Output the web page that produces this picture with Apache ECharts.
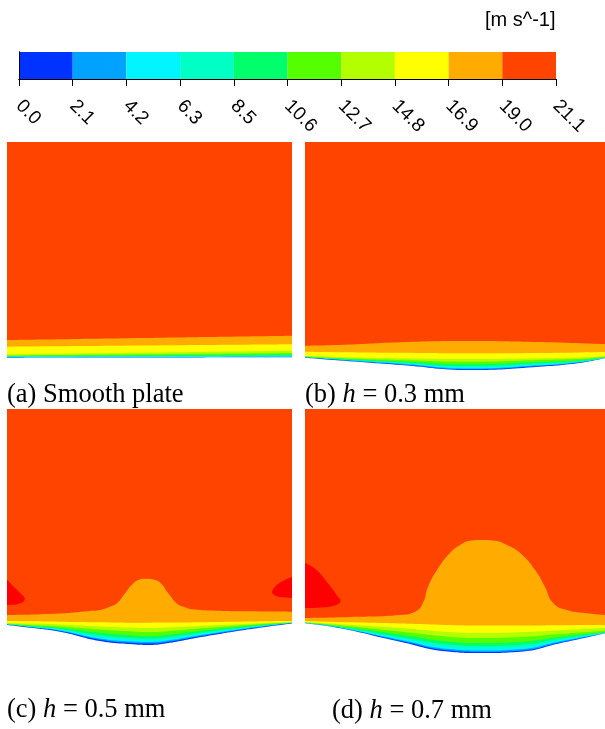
<!DOCTYPE html>
<html>
<head>
<meta charset="utf-8">
<script src="https://cdn.jsdelivr.net/npm/echarts@6/dist/echarts.min.js"></script>
<style>
  html, body { margin: 0; padding: 0; background: #ffffff; }
  #chart { width: 605px; height: 729px; }
</style>
</head>
<body>
<div id="chart"></div>
<script>
// Velocity contour legend: 10 levels, 0.0 to 21.1 m/s
const tickLabels = ['0.0', '2.1', '4.2', '6.3', '8.5', '10.6', '12.7', '14.8', '16.9', '19.0', '21.1'];
const binColors = ['#0033ff', '#00a2ff', '#00f5ff', '#00ffc4', '#00ff6a', '#55ff00', '#b3ff00', '#ffff00', '#ffab00', '#ff4400'];
const overColor = '#ff0000';
const unitText = '[m s^-1]';
const captions = ['(a) Smooth plate', '(b) {i|h} = 0.3 mm', '(c) {i|h} = 0.5 mm', '(d) {i|h} = 0.7 mm'];

// Each panel: x is the streamwise fraction of the window, y is height above the panel floor.
// "Top" arrays give the upper edge of each colour band; wall is the surface.

// (a) smooth plate
const aX = [0, 1];
const aOrangeTop = [32, 36.3];
const aYellowTop = [25.3, 27.7];
const aYgTop = [17.7, 21.3];
const aGreenTop = [16.5, 19];
const aSpringTop = [16, 17.5];
const aAquaTop = [15.6, 16.5];
const aCyanTop = [15.2, 15.8];
const aAzureTop = [14.7, 15.2];
const aBlueTop = [14.4, 14.9];
const aWall = [14.3, 14.7];

// (b) h = 0.3 mm
const bX = [0, 0.13, 0.32, 0.55, 0.78, 0.92, 1];
const bOrangeTop = [26.3, 27.3, 29.8, 31, 30, 28.8, 28];
const bYellowTop = [20.3, 19.8, 19.2, 18.7, 19.1, 19.6, 20];
const bYgTop = [16, 14.8, 13.8, 13, 13.8, 14.6, 15.8];
const bGreenTop = [15.5, 13.8, 12, 10.3, 12, 13.2, 15.2];
const bSpringTop = [15, 13, 10.5, 7.7, 10, 11.8, 14.7];
const bAquaTop = [14.8, 12.6, 9.6, 6, 8.7, 11.1, 14.5];
const bCyanTop = [14.6, 12.2, 8.8, 4.5, 7.5, 10.5, 14.3];
const bAzureTop = [14.5, 11.9, 8.2, 3.5, 6.7, 10.1, 14.2];
const bBlueTop = [14.4, 11.6, 7.6, 2.7, 6, 9.7, 14.1];
const bWall = [14.3, 11.3, 7, 2, 5.3, 9.3, 14];

// (c) h = 0.5 mm
const cX = [0, 0.081, 0.186, 0.326, 0.442, 0.502, 0.561, 0.677, 0.793, 0.912, 1];
const cYellowTop = [35, 34.7, 34.3, 33.7, 33.3, 33.3, 33.4, 33.8, 34.3, 34.8, 35];
const cYgTop = [33, 32.4, 31.5, 29.5, 28.3, 28, 28.4, 30, 31.5, 33, 33.5];
const cGreenTop = [32.2, 31, 29.5, 26.5, 24.5, 24, 24.8, 27.5, 30, 32.2, 33.4];
const cSpringTop = [31.7, 30.2, 28, 23.2, 20.6, 20, 21, 25, 28.5, 31.5, 33.2];
const cAquaTop = [31.6, 29.7, 27, 20.8, 18, 17.5, 18.7, 23.2, 27.4, 31, 33.1];
const cCyanTop = [31.5, 29.3, 26.2, 18.9, 16, 15.5, 16.8, 21.8, 26.5, 30.6, 33];
const cAzureTop = [31.4, 29, 25.6, 17.6, 14.5, 14, 15.4, 20.8, 25.8, 30.2, 32.9];
const cBlueTop = [31.2, 28.7, 25, 16.3, 13, 12.4, 14, 19.8, 25.1, 29.8, 32.7];
const cWall = [31, 28.3, 24.3, 15, 11.7, 11, 12.7, 18.7, 24.3, 29.3, 32.5];
// orange region rises into a bump over the roughness element
const cOrangeX = [0, 0.186, 0.291, 0.326, 0.361, 0.386, 0.414, 0.4375, 0.461, 0.488, 0.513, 0.537, 0.566, 0.595, 0.619, 0.654, 0.736, 0.853, 1];
const cOrangeTop = [41, 42.5, 45, 46, 49.3, 52.7, 62.7, 71, 76, 77.3, 76.5, 73.5, 62.7, 52.7, 49.3, 46.7, 45.3, 44.7, 44.3];
// faster pockets at the side edges
const cLeftPocketX = [0, 0.0105, 0.028, 0.046, 0.060, 0.063, 0.056, 0.039, 0.0105, 0];
const cLeftPocketY = [76, 73, 68, 63, 59, 57, 54, 52, 51, 51];
const cRightPocketX = [1, 0.975, 0.951, 0.937, 0.930, 0.937, 0.958, 1];
const cRightPocketY = [79, 76, 72, 68, 64, 61, 59, 58];

// (d) h = 0.7 mm
const dX = [0, 0.117, 0.317, 0.483, 0.583, 0.717, 0.85, 1];
const dYellowTop = [35, 34, 32.5, 31, 30.5, 30.5, 30.8, 31];
const dYgTop = [34, 31.8, 28, 24, 23, 23.8, 25.8, 28];
const dGreenTop = [33.5, 30.5, 24.5, 19.2, 18, 19, 22, 25.3];
const dSpringTop = [33.2, 29.6, 21.5, 14.3, 13, 14, 19, 24];
const dAquaTop = [33.1, 29, 19, 11.3, 10, 11, 17.3, 23.5];
const dCyanTop = [33, 28.6, 17.5, 8.8, 7.5, 8.7, 15.8, 23];
const dAzureTop = [32.9, 28.3, 16.3, 6.9, 5.5, 6.8, 14.5, 22.9];
const dBlueTop = [32.8, 28, 15.2, 5.4, 4, 5.3, 13.5, 22.8];
const dWall = [32.7, 27.7, 14.3, 4.3, 3, 4.3, 12.7, 22.7];
const dOrangeX = [0, 0.15, 0.317, 0.367, 0.393, 0.41, 0.44, 0.483, 0.517, 0.55, 0.59, 0.633, 0.673, 0.717, 0.767, 0.8, 0.827, 0.873, 0.933, 1];
const dOrangeTop = [38, 39, 41, 44.3, 53, 69, 86, 103, 111, 115.3, 116, 115.3, 111, 103, 86, 69, 53, 46, 43, 41];
const dLeftPocketX = [0, 0.039, 0.072, 0.094, 0.11, 0.119, 0.115, 0.094, 0.039, 0];
const dLeftPocketY = [93, 86, 74.3, 66, 59, 56, 53, 50, 48.3, 48];

const chart = echarts.init(document.getElementById('chart'), null, { renderer: 'canvas' });

const sansFont = '"Liberation Sans", Arial, sans-serif';
const serifFont = '"Liberation Serif", "Times New Roman", serif';

function pairs(xs, ys) {
  return xs.map((x, i) => [x, ys[i]]);
}

function band(gi, xs, ys, color) {
  return {
    type: 'line',
    xAxisIndex: gi,
    yAxisIndex: gi,
    data: pairs(xs, ys),
    smooth: 0.5,
    symbol: 'none',
    showSymbol: false,
    lineStyle: { width: 0, color: color },
    areaStyle: { color: color, opacity: 1, origin: 'start' },
    silent: true,
    animation: false,
    z: 2
  };
}

function pocket(gi, xs, ys) {
  const pts = pairs(xs, ys);
  return {
    type: 'custom',
    xAxisIndex: gi,
    yAxisIndex: gi,
    data: [pts[0]],
    silent: true,
    animation: false,
    z: 2,
    renderItem: function (params, api) {
      const px = pts.map(p => api.coord(p));
      const xsPx = px.map(p => p[0]);
      const ysPx = px.map(p => p[1]);
      // keep the smoothed outline inside the bounding box of its points
      const box = [
        [Math.min.apply(null, xsPx), Math.min.apply(null, ysPx)],
        [Math.max.apply(null, xsPx), Math.max.apply(null, ysPx)]
      ];
      return {
        type: 'polygon',
        shape: { points: px, smooth: 0.35, smoothConstraint: box },
        style: { fill: overColor }
      };
    }
  };
}

function panelSeries(gi, xs, orangeX, orangeTop, tops, wall, pockets) {
  const list = [band(gi, orangeX, orangeTop, binColors[8])];
  pockets.forEach(p => list.push(pocket(gi, p[0], p[1])));
  // tops ordered yellow, yellow-green, green, spring, aqua, cyan, azure, blue
  tops.forEach((ys, k) => list.push(band(gi, xs, ys, binColors[7 - k])));
  list.push(band(gi, xs, wall, '#ffffff'));
  return list;
}

const panels = [
  { left: 7, top: 142, width: 285, height: 230, ymax: 230 },
  { left: 305, top: 142, width: 300, height: 230, ymax: 230 },
  { left: 7, top: 409, width: 285, height: 247, ymax: 247 },
  { left: 305, top: 409, width: 300, height: 247, ymax: 247 }
];

const grids = [{ left: 19, top: 52, width: 537, height: 27, outerBoundsMode: 'none', containLabel: false }];
panels.forEach(p => grids.push({
  left: p.left, top: p.top, width: p.width, height: p.height,
  show: true, backgroundColor: binColors[9], borderWidth: 0,
  outerBoundsMode: 'none', containLabel: false
}));

const xAxes = [
  {
    gridIndex: 0, type: 'value', min: 0, max: 10, interval: 1, position: 'bottom', z: 10,
    axisLine: { show: true, lineStyle: { color: '#000', width: 1 } },
    axisTick: { show: true, length: 7, lineStyle: { color: '#000', width: 1 } },
    splitLine: { show: false },
    axisLabel: {
      show: true, rotate: -45, margin: 24, color: '#000', fontSize: 19, fontFamily: sansFont,
      showMinLabel: true, showMaxLabel: true,
      formatter: v => tickLabels[Math.round(v)]
    }
  },
  {
    gridIndex: 0, type: 'value', min: 0, max: 10, position: 'top', z: 10,
    axisLine: { show: true, lineStyle: { color: '#000', width: 1 } },
    axisTick: { show: false }, axisLabel: { show: false }, splitLine: { show: false }
  }
];
const yAxes = [
  {
    gridIndex: 0, type: 'value', min: 0, max: 1, position: 'left', z: 10,
    axisLine: { show: true, lineStyle: { color: '#000', width: 1 } },
    axisTick: { show: false }, axisLabel: { show: false }, splitLine: { show: false }
  },
  {
    gridIndex: 0, type: 'value', min: 0, max: 1, position: 'right', z: 10,
    axisLine: { show: true, lineStyle: { color: '#000', width: 1 } },
    axisTick: { show: false }, axisLabel: { show: false }, splitLine: { show: false }
  }
];
panels.forEach((p, i) => {
  xAxes.push({ gridIndex: i + 1, type: 'value', min: 0, max: 1, show: false });
  yAxes.push({ gridIndex: i + 1, type: 'value', min: 0, max: p.ymax, show: false });
});

let series = [{
  type: 'custom',
  xAxisIndex: 0,
  yAxisIndex: 0,
  data: binColors.map((c, i) => [i]),
  silent: true,
  animation: false,
  z: 1,
  renderItem: function (params, api) {
    const i = api.value(0);
    const p0 = api.coord([i, 1]);
    const p1 = api.coord([i + 1, 0]);
    return {
      type: 'rect',
      shape: { x: p0[0], y: p0[1], width: p1[0] - p0[0], height: p1[1] - p0[1] },
      style: { fill: binColors[i] }
    };
  }
}];

series = series.concat(
  panelSeries(2, aX, aX, aOrangeTop,
    [aYellowTop, aYgTop, aGreenTop, aSpringTop, aAquaTop, aCyanTop, aAzureTop, aBlueTop], aWall, []),
  panelSeries(3, bX, bX, bOrangeTop,
    [bYellowTop, bYgTop, bGreenTop, bSpringTop, bAquaTop, bCyanTop, bAzureTop, bBlueTop], bWall, []),
  panelSeries(4, cX, cOrangeX, cOrangeTop,
    [cYellowTop, cYgTop, cGreenTop, cSpringTop, cAquaTop, cCyanTop, cAzureTop, cBlueTop], cWall,
    [[cLeftPocketX, cLeftPocketY], [cRightPocketX, cRightPocketY]]),
  panelSeries(5, dX, dOrangeX, dOrangeTop,
    [dYellowTop, dYgTop, dGreenTop, dSpringTop, dAquaTop, dCyanTop, dAzureTop, dBlueTop], dWall,
    [[dLeftPocketX, dLeftPocketY]])
);

const captionPos = [[7, 395], [305, 395], [7, 710], [332, 711]];
const captionFont = 26.5;

const graphics = [{
  type: 'text', x: 485, y: 20,
  style: { text: unitText, fill: '#000', font: '20px ' + sansFont, textVerticalAlign: 'middle', textAlign: 'left' }
}];
captions.forEach((t, i) => graphics.push({
  type: 'text', x: captionPos[i][0], y: captionPos[i][1],
  style: {
    text: t, fill: '#000', fontSize: captionFont, fontFamily: serifFont,
    textVerticalAlign: 'middle', textAlign: 'left',
    rich: { i: { fontStyle: 'italic', fontSize: captionFont, fontFamily: serifFont, fill: '#000' } }
  }
}));

chart.setOption({
  backgroundColor: '#ffffff',
  animation: false,
  grid: grids,
  xAxis: xAxes,
  yAxis: yAxes,
  series: series,
  graphic: graphics
});
</script>
</body>
</html>
